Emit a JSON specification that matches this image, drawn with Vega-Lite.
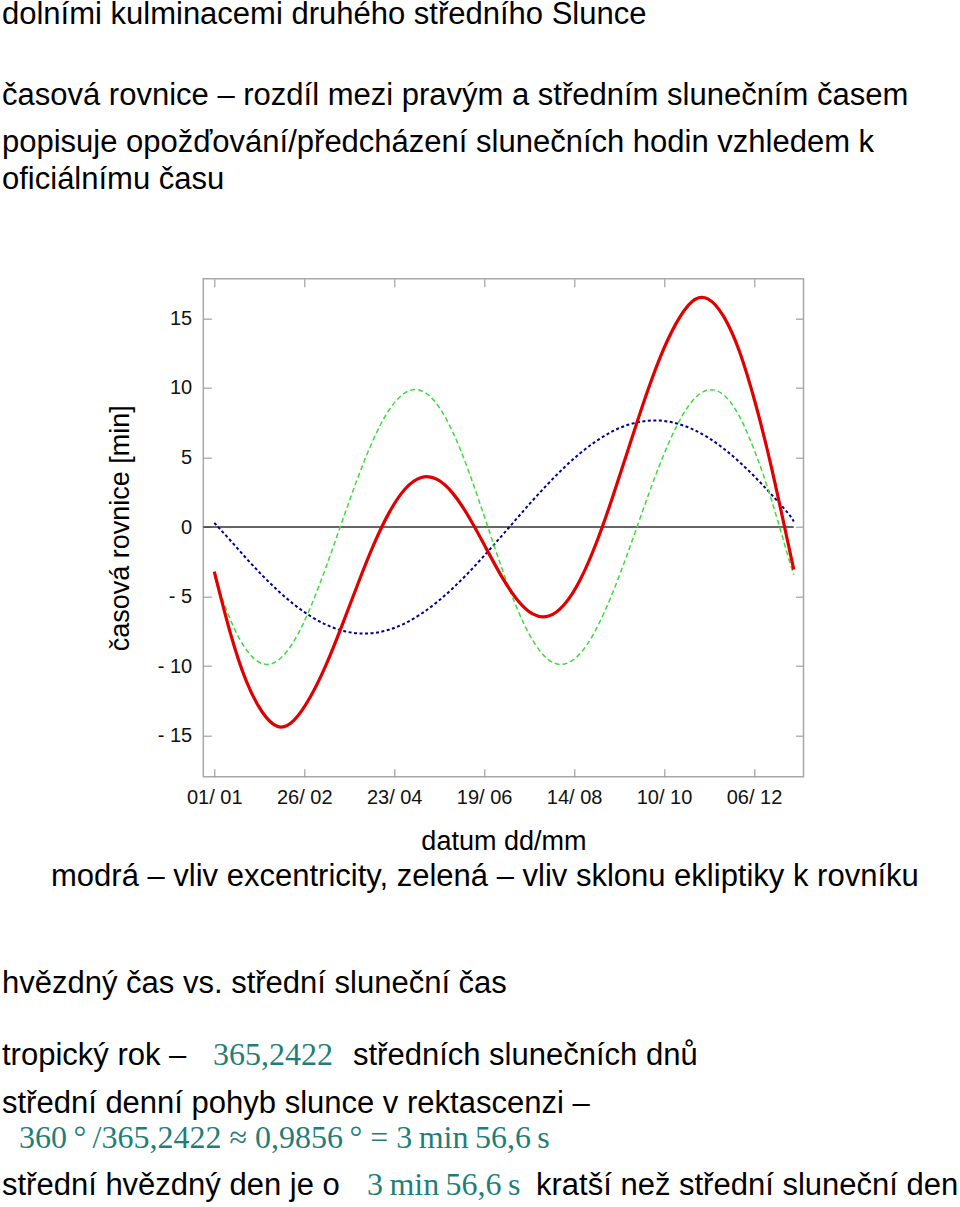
{
  "$schema": "https://vega.github.io/schema/vega-lite/v6.json",
  "width": 600.2,
  "height": 498,
  "autosize": {"type": "none"},
  "padding": {"left": 203.3, "top": 278.7, "right": 156.5, "bottom": 430.3},
  "background": "white",
  "config": {
    "view": {"stroke": "#a8a8a8", "strokeWidth": 1.5},
    "font": "Liberation Sans",
    "axis": {
      "grid": false,
      "domain": false,
      "tickColor": "#a0a0a0",
      "tickWidth": 1.2,
      "tickSize": -8,
      "labelFont": "Liberation Sans",
      "labelFontSize": 20,
      "labelColor": "#111111",
      "titleFont": "Liberation Sans",
      "titleFontSize": 27,
      "titleFontWeight": "normal",
      "titleColor": "#000000"
    }
  },
  "layer": [
    {
      "data": {"values": [{"den": -5.9, "minuty": 0}, {"den": 365, "minuty": 0}]},
      "mark": {"type": "line", "color": "#333333", "strokeWidth": 1.6},
      "encoding": {
        "x": {"field": "den", "type": "quantitative", "scale": {"domain": [-5.9, 371.1], "nice": false, "zero": false},
          "axis": {"orient": "top", "values": [1, 57.5, 114, 170.5, 227, 283.5, 340], "labels": false, "title": null}},
        "y": {"field": "minuty", "type": "quantitative", "scale": {"domain": [-17.95, 17.85], "nice": false, "zero": false},
          "axis": {"orient": "right", "values": [-15, -10, -5, 0, 5, 10, 15], "labels": false, "title": null}}
      }
    },
    {
      "data": {"values": [
        {"krivka": "excentricita", "den": 1, "minuty": 0.30},
        {"krivka": "excentricita", "den": 11, "minuty": -0.95},
        {"krivka": "excentricita", "den": 21, "minuty": -2.24},
        {"krivka": "excentricita", "den": 31, "minuty": -3.46},
        {"krivka": "excentricita", "den": 41, "minuty": -4.58},
        {"krivka": "excentricita", "den": 51, "minuty": -5.56},
        {"krivka": "excentricita", "den": 61, "minuty": -6.38},
        {"krivka": "excentricita", "den": 71, "minuty": -7.01},
        {"krivka": "excentricita", "den": 81, "minuty": -7.44},
        {"krivka": "excentricita", "den": 91, "minuty": -7.64},
        {"krivka": "excentricita", "den": 101, "minuty": -7.62},
        {"krivka": "excentricita", "den": 111, "minuty": -7.37},
        {"krivka": "excentricita", "den": 121, "minuty": -6.91},
        {"krivka": "excentricita", "den": 131, "minuty": -6.24},
        {"krivka": "excentricita", "den": 141, "minuty": -5.39},
        {"krivka": "excentricita", "den": 151, "minuty": -4.38},
        {"krivka": "excentricita", "den": 161, "minuty": -3.24},
        {"krivka": "excentricita", "den": 171, "minuty": -2.00},
        {"krivka": "excentricita", "den": 181, "minuty": -0.71},
        {"krivka": "excentricita", "den": 191, "minuty": 0.61},
        {"krivka": "excentricita", "den": 201, "minuty": 1.91},
        {"krivka": "excentricita", "den": 211, "minuty": 3.15},
        {"krivka": "excentricita", "den": 221, "minuty": 4.30},
        {"krivka": "excentricita", "den": 231, "minuty": 5.32},
        {"krivka": "excentricita", "den": 241, "minuty": 6.18},
        {"krivka": "excentricita", "den": 251, "minuty": 6.87},
        {"krivka": "excentricita", "den": 261, "minuty": 7.35},
        {"krivka": "excentricita", "den": 271, "minuty": 7.61},
        {"krivka": "excentricita", "den": 281, "minuty": 7.65},
        {"krivka": "excentricita", "den": 291, "minuty": 7.46},
        {"krivka": "excentricita", "den": 301, "minuty": 7.05},
        {"krivka": "excentricita", "den": 311, "minuty": 6.44},
        {"krivka": "excentricita", "den": 321, "minuty": 5.63},
        {"krivka": "excentricita", "den": 331, "minuty": 4.66},
        {"krivka": "excentricita", "den": 341, "minuty": 3.55},
        {"krivka": "excentricita", "den": 351, "minuty": 2.33},
        {"krivka": "excentricita", "den": 361, "minuty": 1.05},
        {"krivka": "excentricita", "den": 365, "minuty": 0.40},
        {"krivka": "sklon ekliptiky", "den": 1, "minuty": -3.50},
        {"krivka": "sklon ekliptiky", "den": 11, "minuty": -6.63},
        {"krivka": "sklon ekliptiky", "den": 21, "minuty": -8.81},
        {"krivka": "sklon ekliptiky", "den": 31, "minuty": -9.82},
        {"krivka": "sklon ekliptiky", "den": 41, "minuty": -9.59},
        {"krivka": "sklon ekliptiky", "den": 51, "minuty": -8.21},
        {"krivka": "sklon ekliptiky", "den": 61, "minuty": -5.89},
        {"krivka": "sklon ekliptiky", "den": 71, "minuty": -2.94},
        {"krivka": "sklon ekliptiky", "den": 81, "minuty": 0.30},
        {"krivka": "sklon ekliptiky", "den": 91, "minuty": 3.49},
        {"krivka": "sklon ekliptiky", "den": 101, "minuty": 6.31},
        {"krivka": "sklon ekliptiky", "den": 111, "minuty": 8.45},
        {"krivka": "sklon ekliptiky", "den": 121, "minuty": 9.66},
        {"krivka": "sklon ekliptiky", "den": 131, "minuty": 9.80},
        {"krivka": "sklon ekliptiky", "den": 141, "minuty": 8.81},
        {"krivka": "sklon ekliptiky", "den": 151, "minuty": 6.78},
        {"krivka": "sklon ekliptiky", "den": 161, "minuty": 3.94},
        {"krivka": "sklon ekliptiky", "den": 171, "minuty": 0.63},
        {"krivka": "sklon ekliptiky", "den": 181, "minuty": -2.76},
        {"krivka": "sklon ekliptiky", "den": 191, "minuty": -5.80},
        {"krivka": "sklon ekliptiky", "den": 201, "minuty": -8.15},
        {"krivka": "sklon ekliptiky", "den": 211, "minuty": -9.55},
        {"krivka": "sklon ekliptiky", "den": 221, "minuty": -9.85},
        {"krivka": "sklon ekliptiky", "den": 231, "minuty": -9.07},
        {"krivka": "sklon ekliptiky", "den": 241, "minuty": -7.31},
        {"krivka": "sklon ekliptiky", "den": 251, "minuty": -4.79},
        {"krivka": "sklon ekliptiky", "den": 261, "minuty": -1.77},
        {"krivka": "sklon ekliptiky", "den": 271, "minuty": 1.45},
        {"krivka": "sklon ekliptiky", "den": 281, "minuty": 4.54},
        {"krivka": "sklon ekliptiky", "den": 291, "minuty": 7.16},
        {"krivka": "sklon ekliptiky", "den": 301, "minuty": 9.02},
        {"krivka": "sklon ekliptiky", "den": 311, "minuty": 9.85},
        {"krivka": "sklon ekliptiky", "den": 321, "minuty": 9.49},
        {"krivka": "sklon ekliptiky", "den": 331, "minuty": 7.92},
        {"krivka": "sklon ekliptiky", "den": 341, "minuty": 5.29},
        {"krivka": "sklon ekliptiky", "den": 351, "minuty": 1.94},
        {"krivka": "sklon ekliptiky", "den": 361, "minuty": -1.95},
        {"krivka": "sklon ekliptiky", "den": 365, "minuty": -3.43},
        {"krivka": "časová rovnice", "den": 1, "minuty": -3.20},
        {"krivka": "časová rovnice", "den": 11, "minuty": -7.58},
        {"krivka": "časová rovnice", "den": 21, "minuty": -11.05},
        {"krivka": "časová rovnice", "den": 31, "minuty": -13.28},
        {"krivka": "časová rovnice", "den": 41, "minuty": -14.35},
        {"krivka": "časová rovnice", "den": 51, "minuty": -13.90},
        {"krivka": "časová rovnice", "den": 61, "minuty": -12.28},
        {"krivka": "časová rovnice", "den": 71, "minuty": -9.96},
        {"krivka": "časová rovnice", "den": 81, "minuty": -7.14},
        {"krivka": "časová rovnice", "den": 91, "minuty": -4.15},
        {"krivka": "časová rovnice", "den": 101, "minuty": -1.31},
        {"krivka": "časová rovnice", "den": 111, "minuty": 1.07},
        {"krivka": "časová rovnice", "den": 121, "minuty": 2.75},
        {"krivka": "časová rovnice", "den": 131, "minuty": 3.56},
        {"krivka": "časová rovnice", "den": 141, "minuty": 3.42},
        {"krivka": "časová rovnice", "den": 151, "minuty": 2.40},
        {"krivka": "časová rovnice", "den": 161, "minuty": 0.70},
        {"krivka": "časová rovnice", "den": 171, "minuty": -1.37},
        {"krivka": "časová rovnice", "den": 181, "minuty": -3.46},
        {"krivka": "časová rovnice", "den": 191, "minuty": -5.19},
        {"krivka": "časová rovnice", "den": 201, "minuty": -6.25},
        {"krivka": "časová rovnice", "den": 211, "minuty": -6.40},
        {"krivka": "časová rovnice", "den": 221, "minuty": -5.55},
        {"krivka": "časová rovnice", "den": 231, "minuty": -3.75},
        {"krivka": "časová rovnice", "den": 241, "minuty": -1.13},
        {"krivka": "časová rovnice", "den": 251, "minuty": 2.08},
        {"krivka": "časová rovnice", "den": 261, "minuty": 5.58},
        {"krivka": "časová rovnice", "den": 271, "minuty": 9.06},
        {"krivka": "časová rovnice", "den": 281, "minuty": 12.18},
        {"krivka": "časová rovnice", "den": 291, "minuty": 14.62},
        {"krivka": "časová rovnice", "den": 301, "minuty": 16.20},
        {"krivka": "časová rovnice", "den": 311, "minuty": 16.40},
        {"krivka": "časová rovnice", "den": 321, "minuty": 15.12},
        {"krivka": "časová rovnice", "den": 331, "minuty": 12.58},
        {"krivka": "časová rovnice", "den": 341, "minuty": 8.84},
        {"krivka": "časová rovnice", "den": 351, "minuty": 4.27},
        {"krivka": "časová rovnice", "den": 361, "minuty": -0.95},
        {"krivka": "časová rovnice", "den": 365, "minuty": -3.07}
      ]},
      "encoding": {
        "x": {"field": "den", "type": "quantitative", "scale": {"domain": [-5.9, 371.1], "nice": false, "zero": false},
          "axis": {"orient": "bottom", "values": [1, 57.5, 114, 170.5, 227, 283.5, 340],
            "labelExpr": "datum.value < 20 ? '01/ 01' : datum.value < 80 ? '26/ 02' : datum.value < 140 ? '23/ 04' : datum.value < 200 ? '19/ 06' : datum.value < 250 ? '14/ 08' : datum.value < 310 ? '10/ 10' : '06/ 12'",
            "labelPadding": 18.5, "title": "datum dd/mm", "titlePadding": 21}},
        "y": {"field": "minuty", "type": "quantitative", "scale": {"domain": [-17.95, 17.85], "nice": false, "zero": false},
          "axis": {"orient": "left", "values": [-15, -10, -5, 0, 5, 10, 15],
            "labelExpr": "datum.value < 0 ? '- ' + abs(datum.value) : '' + datum.value",
            "labelPadding": 19.6, "title": "časová rovnice [min]", "titlePadding": 23}}
      },
      "layer": [
        {
          "transform": [{"filter": "datum.krivka === 'excentricita'"}],
          "mark": {"type": "line", "interpolate": "natural", "color": "#000090", "strokeWidth": 2, "strokeDash": [3, 2.5]}
        },
        {
          "transform": [{"filter": "datum.krivka === 'sklon ekliptiky'"}],
          "mark": {"type": "line", "interpolate": "natural", "color": "#3ddc3d", "strokeWidth": 1.5, "strokeDash": [5, 3]}
        },
        {
          "transform": [{"filter": "datum.krivka === 'časová rovnice'"}],
          "mark": {"type": "line", "interpolate": "natural", "color": "#e00000", "strokeWidth": 3.2}
        }
      ]
    },
    {
      "encoding": {
        "x": {"field": "slot", "type": "quantitative", "axis": null,
          "scale": {"type": "linear", "domain": [1, 2, 3, 4, 5, 6, 7], "range": [-201.3, -152.3, 9.7, 149.7, -184.3, 163.7, 332.7], "nice": false, "zero": false}},
        "y": {"field": "line", "type": "quantitative", "axis": null,
          "scale": {"type": "linear", "domain": [1, 2, 3, 4, 5, 6, 7, 8, 9, 10], "range": [-254.7, -173.7, -126.7, -89.7, 607.3, 714.3, 786.3, 834.3, 869.3, 916.3], "nice": false, "zero": false}},
        "text": {"field": "text", "type": "nominal"}
      },
      "layer": [
        {
          "data": {"values": [
            {"line": 1, "slot": 1, "text": "dolními kulminacemi druhého středního Slunce"},
            {"line": 2, "slot": 1, "text": "časová rovnice – rozdíl mezi pravým a středním slunečním časem"},
            {"line": 3, "slot": 1, "text": "popisuje opožďování/předcházení slunečních hodin vzhledem k"},
            {"line": 4, "slot": 1, "text": "oficiálnímu času"},
            {"line": 5, "slot": 2, "text": "modrá – vliv excentricity, zelená – vliv sklonu ekliptiky k rovníku"},
            {"line": 6, "slot": 1, "text": "hvězdný čas vs. střední sluneční čas"},
            {"line": 7, "slot": 1, "text": "tropický rok –"},
            {"line": 7, "slot": 4, "text": "středních slunečních dnů"},
            {"line": 8, "slot": 1, "text": "střední denní pohyb slunce v rektascenzi –"},
            {"line": 10, "slot": 1, "text": "střední hvězdný den je o"},
            {"line": 10, "slot": 7, "text": "kratší než střední sluneční den"}
          ]},
          "mark": {"type": "text", "align": "left", "baseline": "alphabetic", "font": "Liberation Sans", "fontSize": 31, "color": "#000000"}
        },
        {
          "data": {"values": [
            {"line": 7, "slot": 3, "text": "365,2422"},
            {"line": 9, "slot": 5, "text": "360\u2009°\u2009/365,2422 ≈ 0,9856\u2009° = 3\u2009min\u200956,6\u2009s"},
            {"line": 10, "slot": 6, "text": "3\u2009min\u200956,6\u2009s"}
          ]},
          "mark": {"type": "text", "align": "left", "baseline": "alphabetic", "font": "Liberation Serif", "fontSize": 32, "color": "#1f7f78"}
        }
      ]
    }
  ],
  "resolve": {"scale": {"x": "independent", "y": "independent"}, "axis": {"x": "independent", "y": "independent"}}
}
